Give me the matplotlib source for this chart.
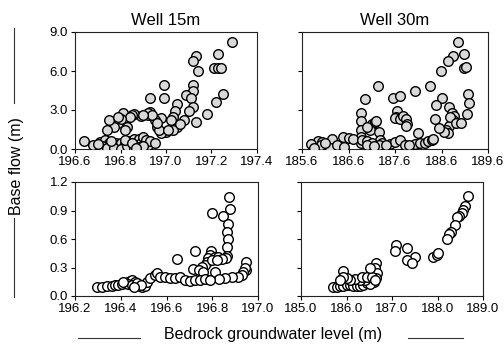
"""Base flow vs bedrock groundwater level, two wells, two periods."""
import numpy as np
import matplotlib
matplotlib.use('Agg')
import matplotlib.pyplot as plt
from matplotlib.lines import Line2D

plt.rcParams['font.family'] = ['Liberation Sans', 'DejaVu Sans']

# ---- data ----
well15_top_x = [197.29, 197.23, 197.13, 197.12, 197.14, 197.21, 197.23, 197.24,
                197.12, 197.12, 196.99, 196.99, 196.93, 197.09, 197.11, 197.25,
                197.22, 197.18, 197.13, 197.12, 197.10, 197.05, 197.04, 197.03,
                197.08, 197.05, 197.03, 197.00, 196.98, 196.98, 196.95, 196.93,
                196.92, 196.89, 196.86, 196.85, 196.81, 196.82, 196.79, 196.77,
                196.75, 196.74, 196.83, 196.96, 196.97, 196.82, 196.92, 196.94,
                196.90, 196.96, 197.02, 197.06, 197.01, 196.84, 196.80, 196.79,
                196.64, 196.68, 196.71, 196.73, 196.75, 196.76, 196.78, 196.79,
                196.80, 196.81, 196.82, 196.83, 196.84, 196.85, 196.86, 196.87,
                196.88, 196.89, 196.90, 196.91, 196.92, 196.93, 196.95, 196.72,
                196.74, 196.77, 196.80, 196.83, 196.86, 196.88, 196.90, 196.70,
                196.76, 196.82, 196.85, 196.87]
well15_top_y = [8.20, 7.30, 7.18, 6.77, 5.97, 6.25, 6.25, 6.25,
                4.92, 4.46, 4.92, 3.95, 3.90, 4.15, 3.90, 4.20,
                3.59, 2.67, 2.10, 3.26, 2.90, 3.43, 2.90, 2.49,
                2.23, 1.72, 1.46, 1.33, 1.20, 2.36, 2.23, 2.87,
                2.64, 2.55, 2.71, 2.64, 2.80, 2.10, 1.97, 1.72,
                2.23, 1.46, 1.72, 1.72, 1.46, 1.46, 2.75, 2.60,
                2.60, 2.00, 2.20, 1.90, 1.50, 2.50, 2.30, 2.49,
                0.62, 0.31, 0.56, 0.69, 0.50, 0.30, 0.45, 0.20,
                0.50, 0.10, 0.35, 0.05, 0.60, 0.20, 0.75, 0.40,
                0.80, 0.50, 0.90, 0.70, 0.30, 0.60, 0.45, 0.20,
                0.10, 0.05, 0.00, 0.20, 0.00, 0.15, 0.25, 0.40,
                0.65, 0.70, 0.45, 0.10]

well30_top_x = [188.96, 189.09, 188.85, 188.73, 189.08, 189.12, 188.58, 187.23,
                188.03, 188.35, 186.95, 187.56, 187.71, 188.62, 188.48, 189.16,
                189.19, 186.87, 186.87, 186.87, 186.87, 186.87, 187.01, 187.10,
                187.16, 187.19, 187.07, 187.00, 187.26, 187.27, 187.65, 187.63,
                187.60, 187.71, 187.78, 187.83, 187.86, 187.83, 188.09, 188.47,
                188.77, 188.82, 188.87, 188.84, 188.77, 188.70, 188.75, 188.65,
                188.55, 188.78, 188.92, 189.03, 189.14,
                185.88, 185.95, 186.02, 186.06, 186.13, 186.24, 186.31, 186.42,
                186.49, 186.60, 186.70, 186.88, 186.99, 187.10, 187.31, 187.49,
                187.60, 187.71, 187.82, 188.03, 188.14, 188.25, 188.32, 188.39,
                188.42, 185.90, 186.20, 187.25, 187.41, 186.00, 185.80, 186.10,
                186.35, 187.00, 187.15, 187.90, 185.85, 186.50]
well30_top_y = [8.26, 7.31, 7.15, 6.77, 6.26, 6.33, 6.00, 4.87,
                4.46, 4.85, 3.85, 3.90, 4.08, 3.90, 3.38, 4.20,
                3.56, 2.74, 2.18, 1.46, 0.95, 0.44, 1.66, 1.90,
                2.05, 2.18, 1.50, 1.70, 1.33, 0.69, 2.90, 2.50,
                2.35, 2.30, 2.57, 2.30, 1.90, 1.80, 1.20, 2.28,
                3.26, 2.80, 2.54, 2.20, 1.77, 1.46, 1.20, 1.33,
                1.60, 2.50, 2.00, 2.00, 2.69,
                0.18, 0.64, 0.56, 0.18, 0.31, 0.74, 0.18, 0.18,
                0.95, 0.82, 0.74, 0.69, 0.62, 0.44, 0.44, 0.38,
                0.56, 0.69, 0.31, 0.36, 0.44, 0.49, 0.62, 0.69,
                0.74, 0.10, 0.10, 0.30, 0.30, 0.30, 0.40, 0.50,
                0.30, 0.30, 0.25, 0.30, 0.05, 0.15]

well15_bot_x = [196.873, 196.878, 196.800, 196.849, 196.868, 196.865, 196.868, 196.863,
                196.863, 196.859, 196.725, 196.645, 196.795, 196.790, 196.783, 196.776,
                196.769, 196.754, 196.812, 196.827, 196.841, 196.798, 196.820, 196.717,
                196.742, 196.758, 196.812, 196.946, 196.946, 196.943, 196.936, 196.929,
                196.914, 196.885, 196.856, 196.830,
                196.295, 196.317, 196.338, 196.360, 196.375, 196.390, 196.404, 196.419,
                196.430, 196.440, 196.451, 196.462, 196.474, 196.484, 196.494, 196.506,
                196.513, 196.528, 196.550, 196.557, 196.572, 196.594, 196.615, 196.637,
                196.659, 196.681, 196.703, 196.725, 196.747, 196.769, 196.790, 196.433,
                196.448, 196.470, 196.490, 196.410, 196.456]
well15_bot_y = [1.046, 0.912, 0.870, 0.842, 0.758, 0.677, 0.596, 0.519,
                0.420, 0.400, 0.474, 0.389, 0.477, 0.430, 0.400, 0.360,
                0.330, 0.310, 0.414, 0.407, 0.390, 0.380, 0.380, 0.280,
                0.270, 0.256, 0.256, 0.360, 0.270, 0.300, 0.256, 0.220,
                0.200, 0.196, 0.186, 0.175,
                0.091, 0.098, 0.105, 0.105, 0.112, 0.116, 0.126, 0.140,
                0.151, 0.158, 0.168, 0.151, 0.126, 0.105, 0.098, 0.105,
                0.151, 0.186, 0.221, 0.246, 0.204, 0.196, 0.186, 0.186,
                0.204, 0.168, 0.161, 0.168, 0.168, 0.175, 0.168, 0.130,
                0.115, 0.140, 0.120, 0.150, 0.100]

well30_bot_x = [188.678, 188.604, 188.568, 188.531, 188.480, 188.436, 188.385, 188.297,
                188.260, 188.200, 187.908, 187.982, 188.018, 187.088, 187.066, 187.337,
                187.505, 187.322, 187.432, 186.648, 185.930,
                185.696, 185.784, 185.857, 185.930, 186.004, 186.077, 186.150, 186.223,
                186.297, 186.370, 186.443, 186.480, 186.516, 186.553, 186.590, 186.626,
                186.663, 186.648, 186.604, 186.516, 186.407, 186.297, 186.187, 186.077,
                186.004, 185.930, 185.857, 186.333, 186.443, 186.553, 186.626, 186.516]
well30_bot_y = [1.056, 0.947, 0.905, 0.870, 0.842, 0.828, 0.747, 0.677,
                0.649, 0.596, 0.407, 0.432, 0.449, 0.537, 0.474, 0.509,
                0.414, 0.379, 0.351, 0.351, 0.267,
                0.098, 0.098, 0.105, 0.105, 0.112, 0.116, 0.105, 0.105,
                0.105, 0.116, 0.133, 0.168, 0.221, 0.256, 0.281, 0.291,
                0.239, 0.186, 0.151, 0.126, 0.168, 0.168, 0.175, 0.168,
                0.186, 0.204, 0.168, 0.204, 0.204, 0.204, 0.168, 0.290]

top_yticks = [0, 3, 6, 9]
bot_yticks = [0, 0.3, 0.6, 0.9, 1.2]
xticks_15_top = [196.6, 196.8, 197.0, 197.2, 197.4]
xticks_30_top = [185.6, 186.6, 187.6, 188.6, 189.6]
xticks_15_bot = [196.2, 196.4, 196.6, 196.8, 197.0]
xticks_30_bot = [185.0, 186.0, 187.0, 188.0, 189.0]

W, H = 504, 347
TICK_FS = 9.5
LABEL_FS = 11.5


def px_axes(fig, x0, y0, x1, y1):
    """Add axes from pixel box (top-left origin)."""
    return fig.add_axes([x0 / W, (H - y1) / H, (x1 - x0) / W, (y1 - y0) / H])


def style_axes(ax, xticks, yticks, ylabels=True):
    ax.set_xlim(xticks[0], xticks[-1])
    ax.set_ylim(yticks[0], yticks[-1])
    ax.set_xticks(xticks)
    ax.set_yticks(yticks)
    ax.set_xticklabels([f'{t:.1f}' for t in xticks])
    if ylabels:
        ax.set_yticklabels([f'{t:.1f}' for t in yticks])
    else:
        ax.set_yticklabels([])
    ax.tick_params(direction='out', length=3, width=0.8, labelsize=TICK_FS,
                   pad=2, color='black')
    for s in ax.spines.values():
        s.set_linewidth(0.8)
        s.set_color('#222222')
    ax.set_facecolor('white')


def lined_scatter(ax, x, y, fc):
    ax.scatter(x, y, s=48, facecolor=fc, edgecolor='black', linewidths=1.0,
               zorder=3)


fig = plt.figure(figsize=(W / 100, H / 100), dpi=100)

ax_tl = px_axes(fig, 75, 32, 257, 149)
ax_tr = px_axes(fig, 302, 32, 488, 149)
ax_bl = px_axes(fig, 75, 182, 258, 296)
ax_br = px_axes(fig, 301, 182, 483, 296)

lined_scatter(ax_tl, well15_top_x, well15_top_y, '#d9d9d9')
lined_scatter(ax_tr, well30_top_x, well30_top_y, '#d9d9d9')
lined_scatter(ax_bl, well15_bot_x, well15_bot_y, 'white')
lined_scatter(ax_br, well30_bot_x, well30_bot_y, 'white')

style_axes(ax_tl, xticks_15_top, top_yticks)
style_axes(ax_tr, xticks_30_top, top_yticks, ylabels=False)
style_axes(ax_bl, xticks_15_bot, bot_yticks)
style_axes(ax_br, xticks_30_bot, bot_yticks, ylabels=False)

ax_tl.set_title('Well 15m', fontsize=LABEL_FS + 0.5, pad=5)
ax_tr.set_title('Well 30m', fontsize=LABEL_FS + 0.5, pad=5)

# axis labels with the decorative rules either side
fig.text(17 / W, 1 - 166 / H, 'Base flow (m)', rotation=90, fontsize=LABEL_FS,
         ha='center', va='center')
fig.text(273 / W, 1 - 335 / H, 'Bedrock groundwater level (m)', fontsize=LABEL_FS,
         ha='center', va='center')
rule = dict(color='#333333', linewidth=0.8, transform=fig.transFigure)
fig.add_artist(Line2D([14 / W, 14 / W], [1 - 28 / H, 1 - 103 / H], **rule))
fig.add_artist(Line2D([14 / W, 14 / W], [1 - 218 / H, 1 - 297 / H], **rule))
fig.add_artist(Line2D([78 / W, 140 / W], [1 - 338 / H, 1 - 338 / H], **rule))
fig.add_artist(Line2D([408 / W, 463 / W], [1 - 338 / H, 1 - 338 / H], **rule))

fig.savefig('out.png', dpi=100)
plt.close(fig)
